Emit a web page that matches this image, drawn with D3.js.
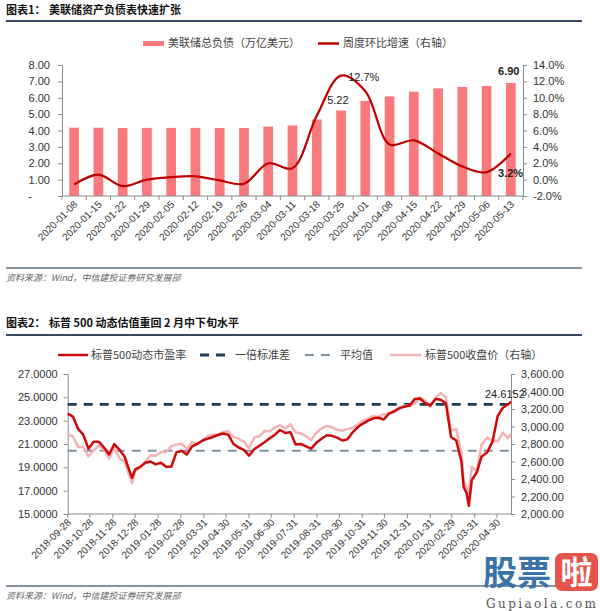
<!DOCTYPE html>
<html>
<head>
<meta charset="utf-8">
<script src="https://cdn.jsdelivr.net/npm/d3@7"></script>
<style>
body { margin: 0; background: #fff; }
svg { font-family: "Liberation Sans", Arial, "Noto Sans CJK SC", sans-serif; }
.axis path, .axis line { stroke: #8c8c8c; }
.axis text { fill: #333; font-size: 11px; }
</style>
</head>
<body>
<svg id="chart" width="600" height="611"></svg>
<script>
// ---- chart 1 data ----
var weeks = ["2020-01-08","2020-01-15","2020-01-22","2020-01-29","2020-02-05","2020-02-12","2020-02-19","2020-02-26",
  "2020-03-04","2020-03-11","2020-03-18","2020-03-25","2020-04-01","2020-04-08","2020-04-15","2020-04-22",
  "2020-04-29","2020-05-06","2020-05-13"];
var liabilities = [4.17,4.17,4.15,4.16,4.16,4.16,4.15,4.15,4.24,4.31,4.67,5.22,5.81,6.08,6.37,6.57,6.66,6.72,6.90];
var weeklyGrowth = [-0.6,0.6,-0.8,0.0,0.3,0.4,-0.1,-0.5,2.0,1.4,7.8,12.7,10.8,4.3,4.8,3.2,1.6,0.9,3.2];
var leftTicks1 = [0,1,2,3,4,5,6,7,8];
var rightTicks1 = [-2,0,2,4,6,8,10,12,14];

// ---- chart 2 data ----
var dates2 = ["2018-09-28","2018-10-05","2018-10-12","2018-10-19","2018-10-26","2018-11-02","2018-11-09","2018-11-16","2018-11-23","2018-11-30",
  "2018-12-07","2018-12-14","2018-12-21","2018-12-24","2018-12-28","2019-01-04","2019-01-11","2019-01-18","2019-01-25","2019-02-01",
  "2019-02-08","2019-02-15","2019-02-22","2019-03-01","2019-03-08","2019-03-15","2019-03-22","2019-03-29","2019-04-05","2019-04-12",
  "2019-04-18","2019-04-26","2019-05-03","2019-05-10","2019-05-17","2019-05-24","2019-05-31","2019-06-07","2019-06-14","2019-06-21",
  "2019-06-28","2019-07-05","2019-07-12","2019-07-19","2019-07-26","2019-08-02","2019-08-09","2019-08-16","2019-08-23","2019-08-30",
  "2019-09-06","2019-09-13","2019-09-20","2019-09-27","2019-10-04","2019-10-11","2019-10-18","2019-10-25","2019-11-01","2019-11-08",
  "2019-11-15","2019-11-22","2019-11-29","2019-12-06","2019-12-13","2019-12-20","2019-12-27","2020-01-03","2020-01-10","2020-01-17",
  "2020-01-24","2020-01-31","2020-02-07","2020-02-14","2020-02-21","2020-02-28","2020-03-06","2020-03-13","2020-03-16","2020-03-20",
  "2020-03-23","2020-03-27","2020-04-03","2020-04-09","2020-04-17","2020-04-24","2020-05-01","2020-05-08","2020-05-15","2020-05-19"];
var peRatio = [23.6,23.35,22.3,21.8,20.6,21.2,21.2,20.7,20.1,21.0,
  20.5,19.9,18.6,18.1,18.8,19.05,19.4,19.5,19.25,19.4,
  19.05,19.05,20.3,20.4,20.1,20.8,21.0,21.3,21.45,21.6,
  21.75,21.9,21.8,21.0,20.7,20.5,20.0,20.55,20.85,21.15,
  21.5,21.8,22.2,21.95,22.0,20.95,21.0,20.8,20.6,21.1,
  21.45,21.75,21.7,21.55,21.3,21.4,22.0,22.45,22.75,23.0,
  23.2,23.25,23.1,23.6,23.8,24.05,24.2,24.3,24.85,24.9,
  24.5,24.3,24.85,24.8,24.5,21.6,21.3,19.5,17.3,16.8,
  15.7,17.9,18.6,19.9,20.3,21.2,23.4,24.1,24.4,24.6152];
var spxClose = [2914,2886,2767,2768,2659,2723,2781,2736,2633,2760,
  2633,2600,2417,2351,2486,2532,2596,2671,2665,2707,
  2708,2776,2793,2804,2743,2822,2801,2834,2893,2907,
  2905,2940,2946,2881,2860,2826,2752,2873,2887,2950,
  2942,2990,3014,2977,3026,2932,2919,2889,2847,2926,
  2979,3007,2992,2962,2952,2970,2986,3023,3067,3093,
  3120,3110,3141,3146,3169,3221,3240,3235,3265,3330,
  3295,3226,3328,3380,3338,2954,2972,2711,2386,2305,
  2237,2541,2489,2790,2875,2837,2831,2930,2864,2922];
var peStd = 24.4, peMean = 20.43;
var monthLabels = ["2018-09-28","2018-10-28","2018-11-28","2018-12-28","2019-01-28","2019-02-28","2019-03-31",
  "2019-04-30","2019-05-31","2019-06-30","2019-07-31","2019-08-31","2019-09-30","2019-10-31","2019-11-30",
  "2019-12-31","2020-01-31","2020-02-29","2020-03-31","2020-04-30"];
var leftTicks2 = [15,17,19,21,23,25,27];
var rightTicks2 = [2000,2200,2400,2600,2800,3000,3200,3400,3600];

var svg = d3.select("#chart");
var cjk = "'Noto Sans CJK SC', sans-serif";

// 标题 + 分隔线
function header(y, tag, title, lineY) {
  svg.append("text").attr("x", 6).attr("y", y).attr("font-family", cjk)
    .attr("font-size", 11).attr("font-weight", "bold").attr("fill", "#111").text(tag);
  svg.append("text").attr("x", 49).attr("y", y).attr("font-family", cjk)
    .attr("font-size", 11).attr("font-weight", "bold").attr("fill", "#111").text(title);
  svg.append("line").attr("x1", 6).attr("x2", 582).attr("y1", lineY).attr("y2", lineY)
    .attr("stroke", "#34495e").attr("stroke-width", 2);
}
function source(y, lineY) {
  svg.append("line").attr("x1", 6).attr("x2", 582).attr("y1", lineY).attr("y2", lineY)
    .attr("stroke", "#5b6f7f").attr("stroke-width", 1.5);
  svg.append("text").attr("x", 6).attr("y", y).attr("font-family", cjk)
    .attr("font-size", 9).attr("font-style", "italic").attr("fill", "#666")
    .text("资料来源：Wind，中信建投证券研究发展部");
}

// ================= 图表1 =================
header(14, "图表1：", "美联储资产负债表快速扩张", 21);

var x1 = d3.scaleBand().domain(weeks).range([62, 523]).paddingInner(0.6).paddingOuter(0.3);
var y1 = d3.scaleLinear().domain([0, 8]).range([196, 65]);
var y1r = d3.scaleLinear().domain([-2, 14]).range([196, 65]);
var g1 = svg.append("g");

g1.selectAll("rect.bar").data(liabilities).enter().append("rect")
  .attr("class", "bar")
  .attr("x", function(d, i) { return x1(weeks[i]); })
  .attr("y", function(d) { return y1(d); })
  .attr("width", x1.bandwidth())
  .attr("height", function(d) { return y1(0) - y1(d); })
  .attr("fill", "#f87a7c");

g1.append("g").attr("class", "axis")
  .attr("transform", "translate(62,0)")
  .call(d3.axisLeft(y1).tickValues(leftTicks1).tickSize(4).tickPadding(8)
    .tickFormat(function(d) { return d === 0 ? "-      " : d.toFixed(2); }))
  .selectAll("text").attr("xml:space", "preserve");

g1.append("g").attr("class", "axis")
  .attr("transform", "translate(523,0)")
  .call(d3.axisRight(y1r).tickValues(rightTicks1).tickSize(4).tickPadding(6)
    .tickFormat(function(d) { return d.toFixed(1) + "%"; }));

// x 轴 + 类别之间的刻度
var step1 = x1.step();
g1.append("line").attr("x1", 62).attr("x2", 523).attr("y1", 196).attr("y2", 196).attr("stroke", "#8c8c8c");
g1.selectAll("line.tk").data(d3.range(weeks.length + 1)).enter().append("line")
  .attr("x1", function(i) { return 62 + i * step1; })
  .attr("x2", function(i) { return 62 + i * step1; })
  .attr("y1", 196).attr("y2", 200).attr("stroke", "#8c8c8c");
g1.selectAll("text.xl").data(weeks).enter().append("text")
  .attr("text-anchor", "end").attr("font-size", 10).attr("fill", "#333")
  .attr("transform", function(d) {
    return "translate(" + (x1(d) + x1.bandwidth() / 2 + 4) + ",205) rotate(-45)";
  })
  .text(function(d) { return d; });

var growthLine = d3.line()
  .x(function(d, i) { return x1(weeks[i]) + x1.bandwidth() / 2; })
  .y(function(d) { return y1r(d); })
  .curve(d3.curveCatmullRom.alpha(0.5));
g1.append("path").datum(weeklyGrowth)
  .attr("d", growthLine).attr("fill", "none")
  .attr("stroke", "#c00000").attr("stroke-width", 2.2);

// 数据标签
function lbl(x, y, t, bold) {
  g1.append("text").attr("x", x).attr("y", y).attr("font-size", 11)
    .attr("font-weight", bold ? "bold" : "normal").attr("fill", "#222").text(t);
}
lbl(x1("2020-03-25") - 9, y1(5.22) - 7, liabilities[11].toFixed(2), false);
lbl(x1("2020-03-25") + 12, y1r(12.7) + 5, weeklyGrowth[11].toFixed(1) + "%", false);
lbl(x1("2020-05-13") - 8, y1(6.90) - 8, liabilities[18].toFixed(2), true);
lbl(x1("2020-05-13") - 8, y1r(3.2) + 24, weeklyGrowth[18].toFixed(1) + "%", true);

// 图例
var leg1 = svg.append("g").attr("font-family", cjk).attr("font-size", 11).attr("fill", "#444");
leg1.append("rect").attr("x", 143).attr("y", 41).attr("width", 21).attr("height", 5).attr("fill", "#f87a7c");
leg1.append("text").attr("x", 168).attr("y", 47).text("美联储总负债（万亿美元）");
leg1.append("line").attr("x1", 318).attr("x2", 339).attr("y1", 43.5).attr("y2", 43.5)
  .attr("stroke", "#c00000").attr("stroke-width", 2.5);
leg1.append("text").attr("x", 343).attr("y", 47).text("周度环比增速（右轴）");

source(281, 268);

// ================= 图表2 =================
header(327, "图表2：", "标普 500 动态估值重回 2 月中下旬水平", 335);

var parse = d3.timeParse("%Y-%m-%d");
var x2 = d3.scaleTime().domain([parse("2018-09-28"), parse("2020-05-19")]).range([67.7, 511]);
var y2 = d3.scaleLinear().domain([15, 27]).range([514, 374]);
var y2r = d3.scaleLinear().domain([2000, 3600]).range([514, 374]);
var g2 = svg.append("g");

g2.append("g").attr("class", "axis")
  .attr("transform", "translate(67.7,0)")
  .call(d3.axisLeft(y2).tickValues(leftTicks2).tickSize(4).tickPadding(6)
    .tickFormat(d3.format(".4f")));
g2.append("g").attr("class", "axis")
  .attr("transform", "translate(511,0)")
  .call(d3.axisRight(y2r).tickValues(rightTicks2).tickSize(4).tickPadding(6)
    .tickFormat(d3.format(",.2f")));

g2.append("line").attr("x1", 67.7).attr("x2", 511).attr("y1", 514).attr("y2", 514).attr("stroke", "#8c8c8c");
g2.selectAll("line.tk").data(monthLabels).enter().append("line")
  .attr("x1", function(d) { return x2(parse(d)); })
  .attr("x2", function(d) { return x2(parse(d)); })
  .attr("y1", 514).attr("y2", 518).attr("stroke", "#8c8c8c");
g2.selectAll("text.xl").data(monthLabels).enter().append("text")
  .attr("text-anchor", "end").attr("font-size", 10).attr("fill", "#333")
  .attr("transform", function(d) {
    return "translate(" + (x2(parse(d)) + 4) + ",523) rotate(-45)";
  })
  .text(function(d) { return d; });

// 标准差 / 均值 虚线
g2.append("line").attr("x1", 67.7).attr("x2", 511).attr("y1", y2(peStd)).attr("y2", y2(peStd))
  .attr("stroke", "#1f3b57").attr("stroke-width", 2.8).attr("stroke-dasharray", "9,7");
g2.append("line").attr("x1", 67.7).attr("x2", 511).attr("y1", y2(peMean)).attr("y2", y2(peMean))
  .attr("stroke", "#7f93a6").attr("stroke-width", 2).attr("stroke-dasharray", "9,7");

var spxLine = d3.line()
  .x(function(d, i) { return x2(parse(dates2[i])); })
  .y(function(d) { return y2r(d); });
var peLine = d3.line()
  .x(function(d, i) { return x2(parse(dates2[i])); })
  .y(function(d) { return y2(d); });

g2.append("path").datum(spxClose).attr("d", spxLine).attr("fill", "none")
  .attr("stroke", "#f5b3b5").attr("stroke-width", 2.5).attr("stroke-linejoin", "round");
g2.append("path").datum(peRatio).attr("d", peLine).attr("fill", "none")
  .attr("stroke", "#cc0a0a").attr("stroke-width", 2.5).attr("stroke-linejoin", "round");

g2.append("text").attr("x", 485).attr("y", 398).attr("font-size", 11).attr("fill", "#222")
  .text(d3.format(".4f")(peRatio[peRatio.length - 1]));

// 图例
var leg2 = svg.append("g").attr("font-family", cjk).attr("font-size", 11).attr("fill", "#444");
leg2.append("line").attr("x1", 58).attr("x2", 88).attr("y1", 355).attr("y2", 355)
  .attr("stroke", "#cc0a0a").attr("stroke-width", 2.5);
leg2.append("text").attr("x", 91).attr("y", 359).text("标普500动态市盈率");
leg2.append("line").attr("x1", 200).attr("x2", 228).attr("y1", 355).attr("y2", 355)
  .attr("stroke", "#1f3b57").attr("stroke-width", 2.8).attr("stroke-dasharray", "9,7");
leg2.append("text").attr("x", 235).attr("y", 359).text("一倍标准差");
leg2.append("line").attr("x1", 305).attr("x2", 333).attr("y1", 355).attr("y2", 355)
  .attr("stroke", "#7f93a6").attr("stroke-width", 2).attr("stroke-dasharray", "9,7");
leg2.append("text").attr("x", 340).attr("y", 359).text("平均值");
leg2.append("line").attr("x1", 390).attr("x2", 421).attr("y1", 355).attr("y2", 355)
  .attr("stroke", "#f5b3b5").attr("stroke-width", 2.5);
leg2.append("text").attr("x", 425).attr("y", 359).text("标普500收盘价（右轴）");

source(599, 586);

// 水印
var wm = svg.append("g");
wm.append("text").attr("x", 483).attr("y", 585).attr("font-family", cjk).attr("font-size", 34)
  .attr("font-weight", "bold").attr("fill", "#3b72a8").text("股票");
wm.append("rect").attr("x", 555).attr("y", 553).attr("width", 43).attr("height", 38).attr("rx", 7)
  .attr("fill", "#e5534b");
wm.append("text").attr("x", 576.5).attr("y", 584).attr("text-anchor", "middle").attr("font-family", cjk)
  .attr("font-size", 32).attr("font-weight", "bold").attr("fill", "#fff").text("啦");
wm.append("text").attr("x", 486).attr("y", 608).attr("font-family", "'DejaVu Serif', serif")
  .attr("font-size", 12).attr("textLength", 110).attr("fill", "#555").text("Gupiaola.com");
</script>
</body>
</html>
